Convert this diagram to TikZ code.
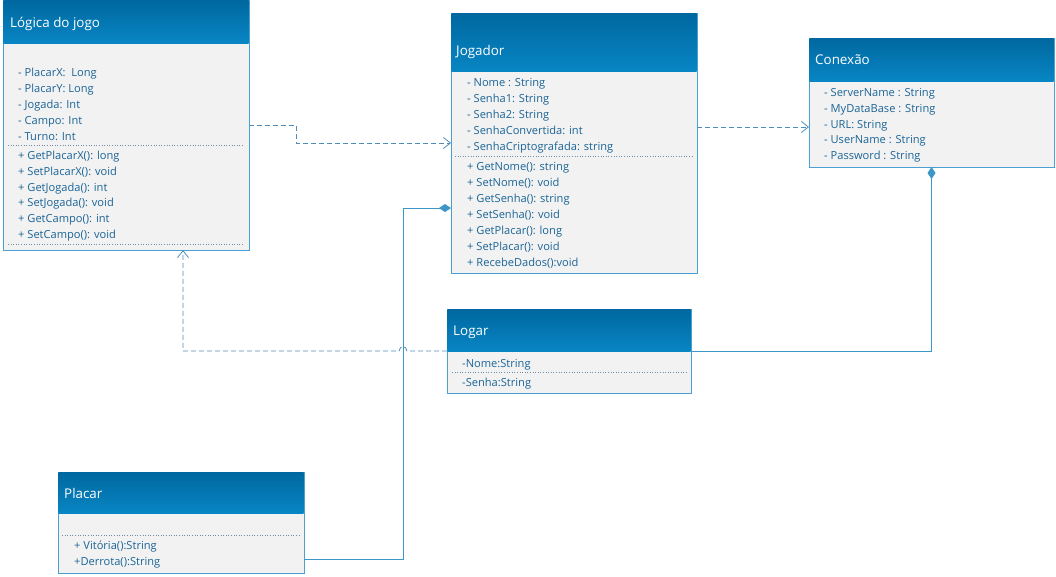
\documentclass[tikz,border=0pt]{standalone}
\usepackage{fontspec}
\setmainfont{Open Sans}
\usetikzlibrary{arrows.meta}

\definecolor{headtop}{RGB}{0,104,160}
\definecolor{headbot}{RGB}{8,134,196}
\definecolor{frame}{RGB}{74,160,210}
\definecolor{bodyfill}{RGB}{242,242,242}
\definecolor{membertext}{RGB}{26,100,150}
\definecolor{wire}{RGB}{60,150,200}
\definecolor{dashwire}{RGB}{80,140,185}
\definecolor{sepcol}{RGB}{110,140,165}

\tikzset{
  classbox/.style={draw=frame, line width=1pt, fill=bodyfill, anchor=north west, inner sep=0pt, outer sep=0pt},
  classhead/.style={top color=headtop, bottom color=headbot, draw=none, anchor=north west, inner sep=0pt, outer sep=0pt},
  classtitle/.style={text=white, font=\fontsize{13.4}{15}\selectfont, anchor=base west, inner sep=0pt},
  member/.style={text=membertext, font=\fontsize{11.1}{13}\selectfont, anchor=base west, inner sep=0pt},
  sepline/.style={draw=sepcol, dotted, line width=0.6pt},
  dep/.style={draw=dashwire, dash pattern=on 5pt off 3pt, line width=0.8pt,
    -{Straight Barb[length=7pt,width=11pt,line width=0.8pt]}},
  comp/.style={draw=wire, line width=1pt, {Diamond[length=12pt,width=8pt]}-},
}

\begin{document}
\begin{tikzpicture}[x=1pt,y=-1pt]
\useasboundingbox (0,0) rectangle (1056,576);

% ---- class Logica do jogo
\node[classbox, minimum width=246pt, minimum height=250pt] (logica) at (3,0) {};
\node[classhead, minimum width=245pt, minimum height=43pt] (logicaH) at ([shift={(0.5,0.5)}]logica.north west) {};
\node[classtitle] (logicaT) at (10,27) {Lógica do jogo};
\foreach \t [count=\i from 0] in {- PlacarX:~ Long, - PlacarY: Long, - Jogada: Int, - Campo: Int, - Turno: Int}
  \node[member] (logicaA\i) at (18,76+16*\i) {\t};
\draw[sepline] (8,145) -- (244,145);
\foreach \t [count=\i from 0] in {+ GetPlacarX(): long, + SetPlacarX(): void, + GetJogada(): int, + SetJogada(): void, + GetCampo(): int, + SetCampo(): void}
  \node[member] (logicaM\i) at (18,159.5+15.8*\i) {\t};
\draw[sepline] (8,244) -- (244,244);

% ---- class Jogador
\node[classbox, minimum width=246pt, minimum height=260pt] (jogador) at (451,13) {};
\node[classhead, minimum width=245pt, minimum height=58pt] (jogadorH) at ([shift={(0.5,0.5)}]jogador.north west) {};
\node[classtitle] (jogadorT) at (456,55) {Jogador};
\foreach \t [count=\i from 0] in {- Nome : String, - Senha1: String, - Senha2: String, - SenhaConvertida: int, - SenhaCriptografada: string}
  \node[member] (jogadorA\i) at (467,86.5+16*\i) {\t};
\draw[sepline] (455,156) -- (692,156);
\foreach \t [count=\i from 0] in {+ GetNome(): string, + SetNome(): void, + GetSenha(): string, + SetSenha(): void, + GetPlacar(): long, + SetPlacar(): void, + RecebeDados():void}
  \node[member] (jogadorM\i) at (467,170.5+16*\i) {\t};

% ---- class Conexao
\node[classbox, minimum width=245pt, minimum height=129pt] (conexao) at (809,38) {};
\node[classhead, minimum width=244pt, minimum height=43pt] (conexaoH) at ([shift={(0.5,0.5)}]conexao.north west) {};
\node[classtitle] (conexaoT) at (815,64) {Conexão};
\foreach \t [count=\i from 0] in {- ServerName : String, - MyDataBase : String, - URL: String, - UserName : String, - Password : String}
  \node[member] (conexaoA\i) at (824,96.5+15.8*\i) {\t};

% ---- class Logar
\node[classbox, minimum width=244pt, minimum height=84pt] (logar) at (447,309) {};
\node[classhead, minimum width=243pt, minimum height=42pt] (logarH) at ([shift={(0.5,0.5)}]logar.north west) {};
\node[classtitle] (logarT) at (453,335) {Logar};
\node[member] (logarA0) at (462,367.5) {-Nome:String};
\draw[sepline] (452,372) -- (688,372);
\node[member] (logarA1) at (462,386.5) {-Senha:String};

% ---- class Placar
\node[classbox, minimum width=246pt, minimum height=101pt] (placar) at (58,472) {};
\node[classhead, minimum width=245pt, minimum height=41pt] (placarH) at ([shift={(0.5,0.5)}]placar.north west) {};
\node[classtitle] (placarT) at (64,498) {Placar};
\draw[sepline] (62,535) -- (300,535);
\node[member] (placarM0) at (74,549.5) {+ Vitória():String};
\node[member] (placarM1) at (74,565.5) {+Derrota():String};

% ---- relations
% dependencies
\draw[dep] (logica.east) -- ++(47,0) |- (jogador.west);
\coordinate (jc) at ([yshift=16pt]jogador.east);
\draw[dep] (jc) -- (jc -| conexao.west);

% compositions
\coordinate (jd) at ([yshift=-65pt]jogador.west);
\coordinate (bend) at ([xshift=-48pt]jd);
\draw[comp] (jd) -- (bend) |- ([yshift=-37pt]placar.east);
\draw[comp] (conexao.south) |- (logar.east);

% dependency from Logar, hopping over the composition line
\coordinate (hop) at (logar.west -| bend);
\draw[dep] (logar.west) -- ([xshift=4pt]hop)
  .. controls ([shift={(3,-6)}]hop) and ([shift={(-3,-6)}]hop) .. ([xshift=-4pt]hop)
  -| ([xshift=57pt]logica.south);
\end{tikzpicture}
\end{document}
